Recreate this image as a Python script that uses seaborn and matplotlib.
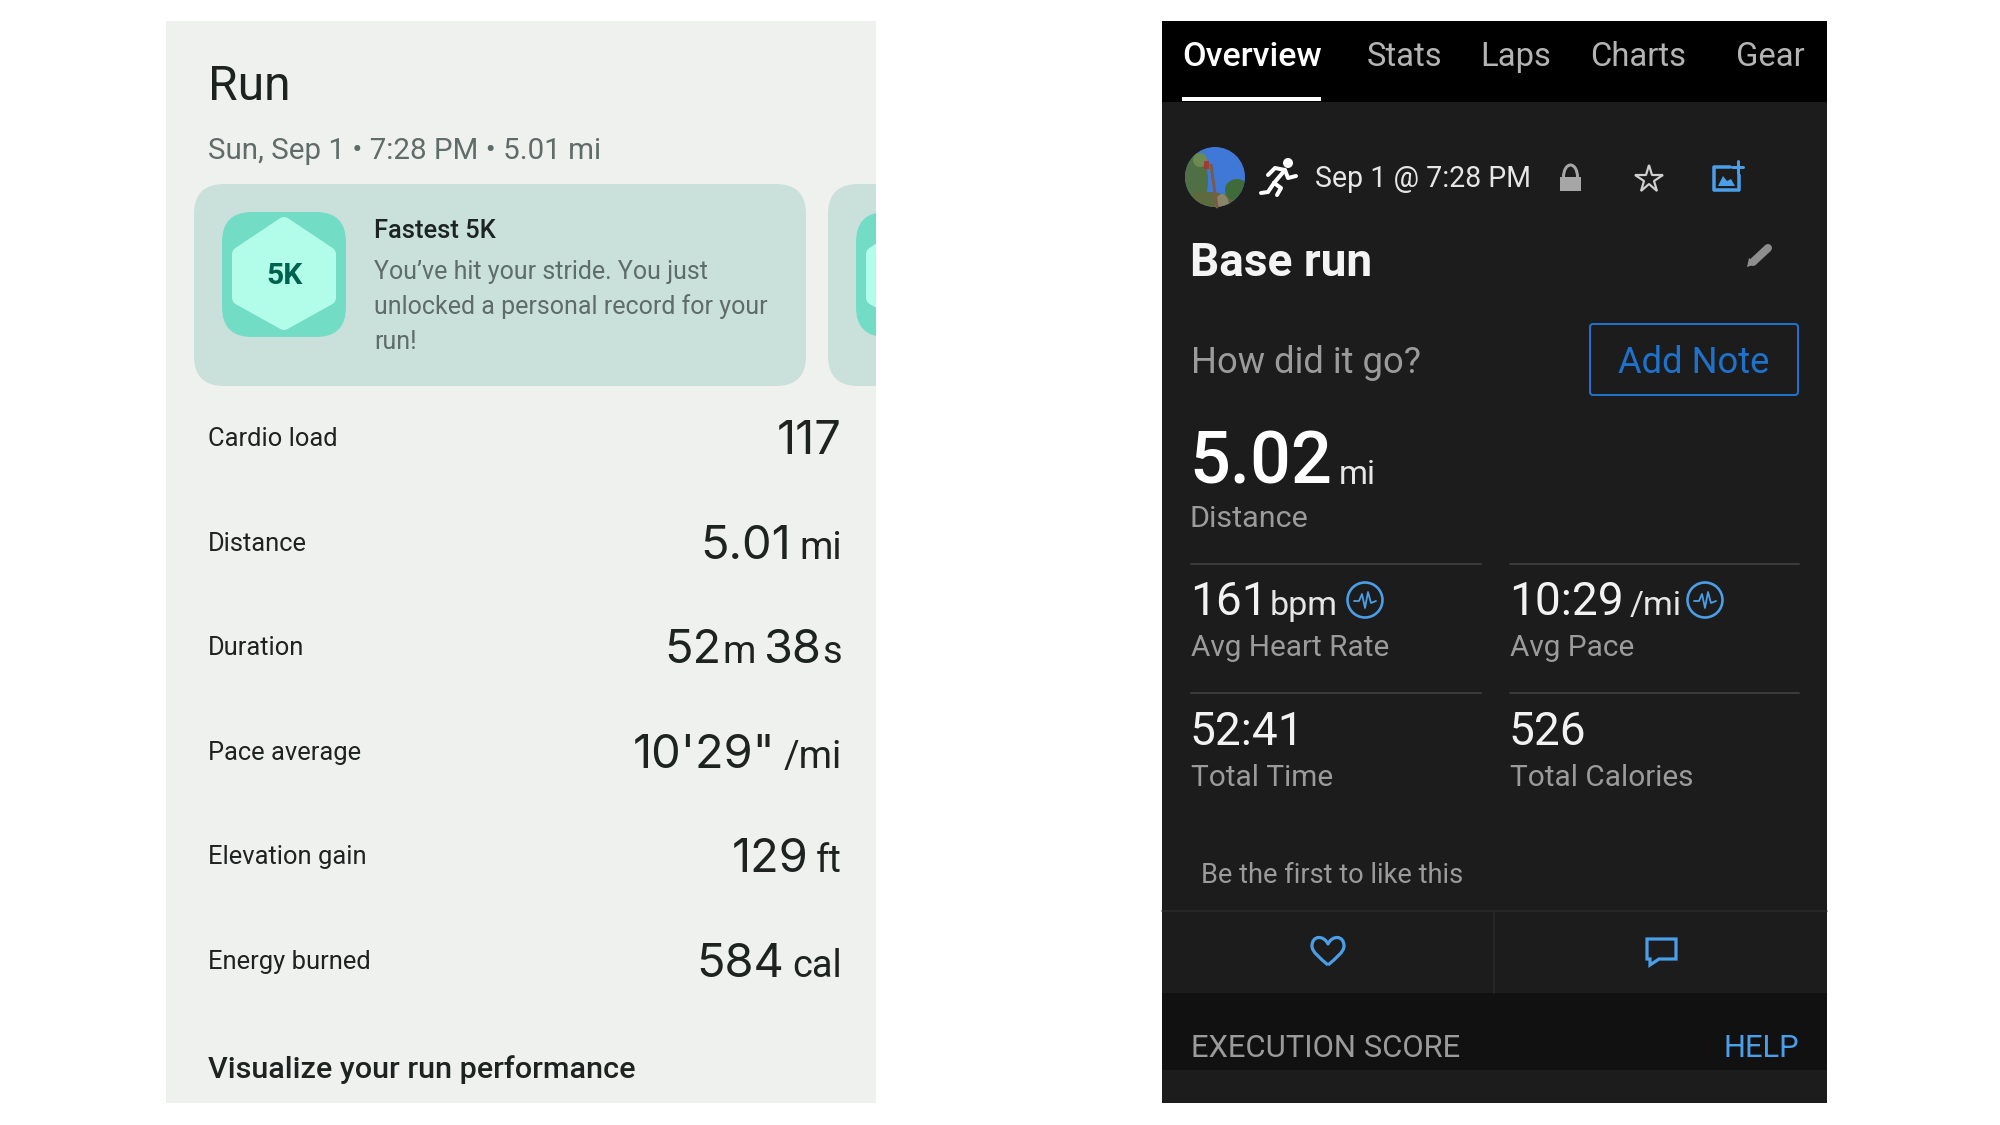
import matplotlib
matplotlib.use("Agg")
import matplotlib.pyplot as plt
import numpy as np
import pandas as pd
import seaborn as sns
from matplotlib.patches import Circle, Ellipse, FancyBboxPatch, PathPatch, Polygon, Rectangle, Arc
from matplotlib.path import Path

# ── Data ────────────────────────────────────────────────────────────────────
run_title = "Run"
run_subtitle = "Sun, Sep 1 • 7:28 PM • 5.01 mi"
badge_label = "5K"
card_title = "Fastest 5K"
card_lines = ["You’ve hit your stride. You just", "unlocked a personal record for your", "run!"]
row_labels = ["Cardio load", "Distance", "Duration", "Pace average", "Elevation gain", "Energy burned"]
# number, unit, number, unit
row_values = [["117"], ["5.01", "mi"], ["52", "m", "38", "s"], ["10'29\"", "/mi"], ["129", "ft"], ["584", "cal"]]
footer_left = "Visualize your run performance"

tabs = ["Overview", "Stats", "Laps", "Charts", "Gear"]
activity_date = "Sep 1 @ 7:28 PM"
activity_name = "Base run"
note_prompt = "How did it go?"
note_button = "Add Note"
distance_value = "5.02"
distance_unit = "mi"
distance_label = "Distance"
stat_values = ["161", "10:29", "52:41", "526"]
stat_units = ["bpm", "/mi", "", ""]
stat_labels = ["Avg Heart Rate", "Avg Pace", "Total Time", "Total Calories"]
like_text = "Be the first to like this"
section_name = "EXECUTION SCORE"
section_help = "HELP"

# ── Layout (pixels of the 2000x1125 picture) ────────────────────────────────
row_baselines = [454, 559, 663, 768, 872, 977]
row_label_baselines = [446, 551, 655, 760, 864, 969]
tab_x = [1182, 1367, 1480, 1590, 1736]
stat_x = [1190, 1509, 1190, 1509]
stat_value_y = [615, 615, 745, 745]
stat_label_y = [656, 656, 786, 786]

PANEL_L = "#eff1ef"
CARD = "#c9e0db"
TEAL = "#72dcc5"
MINT = "#b2fcea"
INK = "#1d2321"
MUTED = "#5f6c69"
DARK = "#1c1c1c"
GREY = "#9b9b9b"
BLUE = "#4a9fe8"
BLUE2 = "#1f72cc"

sns.set_theme(style="white")
plt.rcParams["font.family"] = ["Roboto", "DejaVu Sans"]

fig = plt.figure(figsize=(20, 11.25), dpi=100, facecolor="white")
ax = fig.add_axes([0, 0, 1, 1])
ax.set_xlim(0, 2000)
ax.set_ylim(1125, 0)
ax.axis("off")


def lw(px):
    return px * 0.72


def txt(x, y, s, px, color, ha="left", weight="normal", **kw):
    return ax.text(x, y, s, fontsize=px * 0.72, color=color, ha=ha, va="baseline", fontweight=weight, **kw)


def rbox(x0, y0, x1, y1, r, color, clip=None, zorder=2):
    p = FancyBboxPatch((x0, y0), x1 - x0, y1 - y0, boxstyle=f"round,pad=0,rounding_size={r}",
                       fc=color, ec="none", zorder=zorder)
    ax.add_patch(p)
    if clip is not None:
        p.set_clip_path(clip)
    return p


def hexagon(cx, clip=None):
    h = Polygon([(cx, 224), (cx + 45, 254), (cx + 45, 298), (cx, 323), (cx - 45, 298), (cx - 45, 254)],
                closed=True, fc=MINT, ec=MINT, lw=lw(14), joinstyle="round", zorder=4)
    ax.add_patch(h)
    if clip is not None:
        h.set_clip_path(clip)


# ── Left panel ──────────────────────────────────────────────────────────────
left_bg = Rectangle((166, 21), 710, 1082, fc=PANEL_L, ec="none", zorder=1)
ax.add_patch(left_bg)

txt(207.5, 100, run_title, 48, INK)
txt(207.5, 159, run_subtitle, 29.5, MUTED)

rbox(194, 184, 806, 386, 30, CARD)
rbox(828, 184, 1000, 386, 30, CARD, clip=left_bg)
rbox(222, 212, 346, 337, 30, TEAL, zorder=3)
rbox(856, 212, 990, 337, 30, TEAL, clip=left_bg, zorder=3)
hexagon(284)
hexagon(918, clip=left_bg)
txt(285, 284, badge_label, 30, "#00614f", ha="center", weight="bold", zorder=5)

txt(374, 238, card_title, 25.5, INK, weight="medium")
for y, line in zip([279, 314, 349], card_lines):
    txt(374, y, line, 25, MUTED)

renderer = fig.canvas.get_renderer()
for label, parts, y, ly in zip(row_labels, row_values, row_baselines, row_label_baselines):
    txt(207.5, ly, label, 25.5, INK)
    x = 842
    # right to left, so the units end on the same edge
    for i in range(len(parts) - 1, -1, -1):
        is_unit = i % 2 == 1
        if is_unit:
            t = txt(x, y, parts[i], 38, INK, ha="right")
        else:
            # Inter has the narrow 1 of the original numerals
            t = txt(x, y, parts[i], 47, INK, ha="right", family=["Inter", "Roboto"])
        x -= t.get_window_extent(renderer).width
        if is_unit:
            x -= 1 if parts[i] in ("m", "s") else 8
        else:
            x -= 8

txt(207.5, 1078, footer_left, 30.5, INK, weight="medium")

# ── Right panel ─────────────────────────────────────────────────────────────
ax.add_patch(Rectangle((1162, 21), 665, 1082, fc=DARK, ec="none", zorder=1))
ax.add_patch(Rectangle((1162, 21), 665, 81, fc="black", ec="none", zorder=2))
for i, (name, x) in enumerate(zip(tabs, tab_x)):
    txt(x, 66, name, 34 if i == 0 else 32.8, "white" if i == 0 else "#b4b4b4",
        weight="medium" if i == 0 else "normal", zorder=3)
ax.add_patch(Rectangle((1182, 97), 139, 4, fc="white", ec="none", zorder=3))

# avatar
avatar = Circle((1215, 177), 30, fc="#3f78d6", ec="none", zorder=3)
ax.add_patch(avatar)
for (cx, cy, w, h, c) in [(1195, 180, 26, 56, "#4f7045"), (1207, 205, 60, 26, "#5d6a3d"), (1237, 190, 24, 22, "#3f6a3a"),
                          (1200, 160, 14, 14, "#6d8a52"), (1222, 206, 14, 24, "#8a8468")]:
    e = Ellipse((cx, cy), w, h, fc=c, ec="none", zorder=4)
    ax.add_patch(e)
    e.set_clip_path(avatar)
ax.plot([1211, 1217], [165, 207], color="#7a5a48", lw=lw(3), zorder=5)
ax.add_patch(Rectangle((1204, 161), 5, 8, fc="#a33a34", ec="none", zorder=5))

# runner icon
ax.add_patch(Circle((1288, 163), 5, fc="white", ec="none", zorder=4))
for xs, ys in [([1285, 1274], [170, 183]), ([1268, 1275, 1285, 1288, 1296], [175, 168, 170, 178, 176]),
               ([1274, 1281, 1277], [183, 188, 195]), ([1274, 1268, 1261], [183, 192, 193])]:
    ax.plot(xs, ys, color="white", lw=lw(4), solid_capstyle="round", solid_joinstyle="round", zorder=4)

txt(1315, 187, activity_date, 28.5, "#e6e6e6", zorder=4)

# lock, star, add-photo
ax.add_patch(Rectangle((1560, 177), 21, 14, fc="#a6a6a6", ec="none", zorder=4))
ax.add_patch(Arc((1570.5, 177), 14, 24, theta1=180, theta2=360, ec="#a6a6a6", lw=lw(3), zorder=4))
ax.plot([1649], [179], marker="*", ms=20.5, mfc="none", mec="#cfcfcf", mew=lw(2.2), zorder=4)
ax.plot([1730, 1714, 1714, 1739, 1739], [167, 167, 190, 190, 175], color=BLUE, lw=lw(3.5), zorder=4)
ax.plot([1737.5, 1737.5], [161, 173], color=BLUE, lw=lw(3), zorder=4)
ax.plot([1732, 1743], [167, 167], color=BLUE, lw=lw(3), zorder=4)
ax.add_patch(Polygon([(1718, 186), (1723, 176), (1727, 181), (1731, 179), (1735, 186)], fc=BLUE, ec="none", zorder=4))

txt(1190, 276, activity_name, 46, "#f4f4f4", weight="bold", zorder=4)
ax.plot([1753, 1768], [262, 248], color="#8e8e8e", lw=lw(8), zorder=4)
ax.add_patch(Polygon([(1747, 267), (1749, 258), (1756, 264)], fc="#8e8e8e", ec="none", zorder=4))

txt(1191, 373, note_prompt, 36.4, GREY, zorder=4)
ax.add_patch(FancyBboxPatch((1590, 324), 208, 71, boxstyle="round,pad=0,rounding_size=3", fc="none", ec=BLUE2,
                            lw=lw(2), zorder=4))
txt(1694, 373, note_button, 36.4, BLUE2, ha="center", zorder=4)

txt(1189, 484, distance_value, 72, "white", weight="medium", zorder=4)
txt(1339, 484, distance_unit, 33, "#e6e6e6", zorder=4)
txt(1190, 527, distance_label, 30.5, GREY, zorder=4)

# dividers
dividers = pd.DataFrame({
    "x": [1191, 1481, 1510, 1799, 1191, 1481, 1510, 1799],
    "y": [564, 564, 564, 564, 693, 693, 693, 693],
    "seg": ["a", "a", "b", "b", "c", "c", "d", "d"],
})
sns.lineplot(data=dividers, x="x", y="y", units="seg", estimator=None, color="#3b3b3b", lw=lw(2), ax=ax, zorder=4)
sns.lineplot(data=pd.DataFrame({"x": [1162, 1827], "y": [911, 911]}), x="x", y="y", estimator=None,
             color="#2b2b2b", lw=lw(1.5), ax=ax, zorder=4)
sns.lineplot(data=pd.DataFrame({"x": [1494, 1494], "y": [911, 993]}), x="x", y="y", estimator=None,
             color="#2b2b2b", lw=lw(1.5), ax=ax, zorder=4, orient="y")
ax.set_xlim(0, 2000)
ax.set_ylim(1125, 0)
ax.axis("off")


def pulse(cx, cy):
    ax.add_patch(Circle((cx, cy), 17.5, fc="none", ec=BLUE, lw=lw(2.6), zorder=4))
    ax.plot(cx + np.array([-11, -6, -3, 0, 3, 6, 11]), cy + np.array([1, 1, -6, 8, -8, 3, 1]),
            color=BLUE, lw=lw(1.8), zorder=4)


for val, unit, label, x, vy, ly in zip(stat_values, stat_units, stat_labels, stat_x, stat_value_y, stat_label_y):
    t = txt(x, vy, val, 46, "#f2f2f2", zorder=4)
    if unit:
        txt(x + t.get_window_extent(renderer).width + (2 if val == "161" else 6), vy, unit, 34, "#e6e6e6", zorder=4)
    txt(x + 1, ly, label, 29.8, GREY, zorder=4)
pulse(1365, 600)
pulse(1705, 600)

txt(1201, 883, like_text, 27.2, GREY, zorder=4)

# heart
hx, hy = 1328, 951
heart = Path([(hx, hy + 14),
              (hx - 8, hy + 7), (hx - 16, hy + 1), (hx - 16, hy - 5),
              (hx - 16, hy - 16), (hx - 4, hy - 16), (hx, hy - 7),
              (hx + 4, hy - 16), (hx + 16, hy - 16), (hx + 16, hy - 5),
              (hx + 16, hy + 1), (hx + 8, hy + 7), (hx, hy + 14)],
             [Path.MOVETO] + [Path.CURVE4] * 12)
ax.add_patch(PathPatch(heart, fc="none", ec=BLUE, lw=lw(3.2), zorder=4, joinstyle="round"))

# comment
ax.add_patch(Polygon([(1647, 939), (1676, 939), (1676, 959), (1659, 959), (1650, 965), (1650, 959), (1647, 959)],
                     fc="none", ec=BLUE, lw=lw(3.2), zorder=4))

# section header
ax.add_patch(Rectangle((1162, 993), 665, 77, fc="#111111", ec="none", zorder=3))
txt(1191, 1057, section_name, 31, GREY, zorder=4)
txt(1799, 1057, section_help, 31, BLUE, ha="right", zorder=4)

fig.savefig("out.png", dpi=100)
